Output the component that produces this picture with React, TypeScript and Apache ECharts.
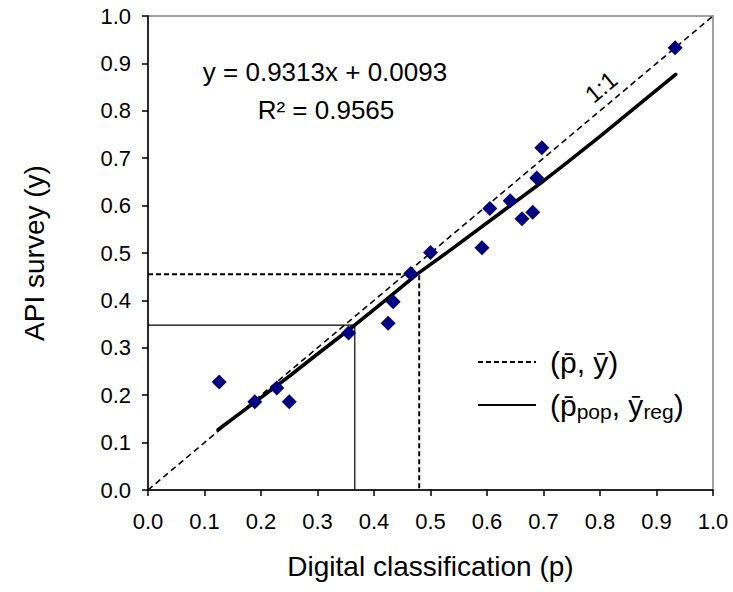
import React, { useEffect, useRef } from "react";
import * as echarts from "echarts";

// Observed points: digital classification (p) vs API survey (y)
const obsP = [0.126, 0.189, 0.228, 0.25, 0.355, 0.425, 0.434, 0.465, 0.5, 0.591, 0.605, 0.641, 0.662, 0.681, 0.688, 0.697, 0.933];
const obsY = [0.228, 0.186, 0.215, 0.186, 0.331, 0.352, 0.397, 0.457, 0.501, 0.511, 0.594, 0.61, 0.572, 0.586, 0.658, 0.722, 0.933];

// Regression curve as drawn
const regP = [0.124, 0.19, 0.25, 0.3, 0.363, 0.42, 0.478, 0.535, 0.623, 0.7, 0.741, 0.8, 0.934];
const regY = [0.127, 0.186, 0.24, 0.287, 0.345, 0.4, 0.457, 0.506, 0.584, 0.652, 0.69, 0.746, 0.877];

// 1:1 line
const oneP = [0, 1];
const oneY = [0, 1];

// Guide points
const meanP = 0.48;
const meanY = 0.455;
const popP = 0.366;
const regMeanY = 0.348;

const tickValues = [0, 0.1, 0.2, 0.3, 0.4, 0.5, 0.6, 0.7, 0.8, 0.9, 1.0];

const FONT = "'Liberation Sans', Arial, sans-serif";

export default function App() {
  const ref = useRef<HTMLDivElement>(null);
  useEffect(() => {
    if (!ref.current) return;
    const chart = echarts.init(ref.current, null, { renderer: "svg" });
    const zip = (a: number[], b: number[]) => a.map((v, i) => [v, b[i]]);
    const axisCommon = {
      type: "value" as const,
      min: tickValues[0],
      max: tickValues[tickValues.length - 1],
      interval: 0.1,
      axisLine: { show: true, onZero: false, lineStyle: { color: "#000", width: 1.5 } },
      axisTick: { show: true, inside: false, length: 6, lineStyle: { color: "#000", width: 1.5 } },
      splitLine: { show: false },
      nameLocation: "middle" as const,
      nameTextStyle: { fontSize: 28, color: "#000", fontFamily: FONT },
    };
    chart.setOption({
      animation: false,
      backgroundColor: "#fff",
      textStyle: { fontFamily: FONT },
      grid: {
        left: 148, top: 16, width: 565, height: 474,
        show: true, borderColor: "#a0a0a0", borderWidth: 2, backgroundColor: "transparent",
      },
      xAxis: {
        ...axisCommon,
        name: "Digital classification (p)",
        nameGap: 62,
        axisLabel: { fontSize: 22, color: "#000", margin: 20, fontFamily: FONT, formatter: (v: number) => v.toFixed(1) },
      },
      yAxis: {
        ...axisCommon,
        name: "API survey (y)",
        nameGap: 100,
        axisLabel: { fontSize: 22, color: "#000", margin: 17, fontFamily: FONT, formatter: (v: number) => v.toFixed(1) },
      },
      legend: {
        show: true,
        orient: "vertical",
        left: 472,
        top: 342,
        itemWidth: 58,
        itemHeight: 14,
        itemGap: 13,
        itemStyle: { opacity: 0 },
        data: ["(p̄, ȳ)", "(p̄pop, ȳreg)"],
        textStyle: {
          color: "#000",
          fontSize: 30,
          fontFamily: FONT,
          rich: {
            f: { fontSize: 30, fontFamily: FONT, color: "#000", lineHeight: 34, padding: [0, 0, 0, 9] },
            m: { fontSize: 30, fontFamily: FONT, color: "#000", lineHeight: 34 },
            s: { fontSize: 21, fontFamily: FONT, color: "#000", verticalAlign: "bottom", lineHeight: 12 },
          },
        },
        formatter: (name: string) =>
          name === "(p̄, ȳ)" ? "{f|(p̄, ȳ)}" : "{f|(p̄}{s|pop}{m|, ȳ}{s|reg}{m|)}",
      },
      graphic: [
        { type: "text", style: { text: "y = 0.9313x + 0.0093", x: 325, y: 72, fontSize: 26, fontFamily: FONT, fill: "#000", align: "center", verticalAlign: "middle" } },
        { type: "text", style: { text: "R² = 0.9565", x: 326, y: 110, fontSize: 26, fontFamily: FONT, fill: "#000", align: "center", verticalAlign: "middle" } },
        { type: "text", x: 601, y: 87, rotation: (40 * Math.PI) / 180, style: { text: "1:1", x: 0, y: 0, fontSize: 24, fontFamily: FONT, fill: "#000", align: "center", verticalAlign: "middle" } },
      ],
      series: [
        {
          name: "1:1",
          type: "line",
          data: zip(oneP, oneY),
          symbol: "none",
          lineStyle: { color: "#000", width: 1.6, type: [6, 4] },
          z: 2,
        },
        {
          name: "(p̄, ȳ)",
          type: "line",
          data: [[0, meanY], [meanP, meanY], [meanP, 0]],
          symbol: "none",
          lineStyle: { color: "#000", width: 2, type: [5, 3] },
          z: 2,
        },
        {
          name: "(p̄pop, ȳreg)",
          type: "line",
          data: [[0, regMeanY], [popP, regMeanY], [popP, 0]],
          symbol: "none",
          lineStyle: { color: "#000", width: 1.2, type: "solid" },
          z: 2,
        },
        {
          name: "Regression",
          type: "line",
          data: zip(regP, regY),
          symbol: "none",
          smooth: false,
          lineStyle: { color: "#000", width: 3.6, cap: "round", join: "round" },
          z: 3,
        },
        {
          name: "Observed",
          type: "scatter",
          data: zip(obsP, obsY),
          symbol: "diamond",
          symbolSize: 15,
          itemStyle: { color: "#000080", opacity: 1 },
          z: 4,
        },
      ],
    });
    return () => chart.dispose();
  }, []);
  return <div ref={ref} style={{ position: "fixed", left: 0, top: 0, width: 733, height: 592, background: "#fff" }} />;
}
